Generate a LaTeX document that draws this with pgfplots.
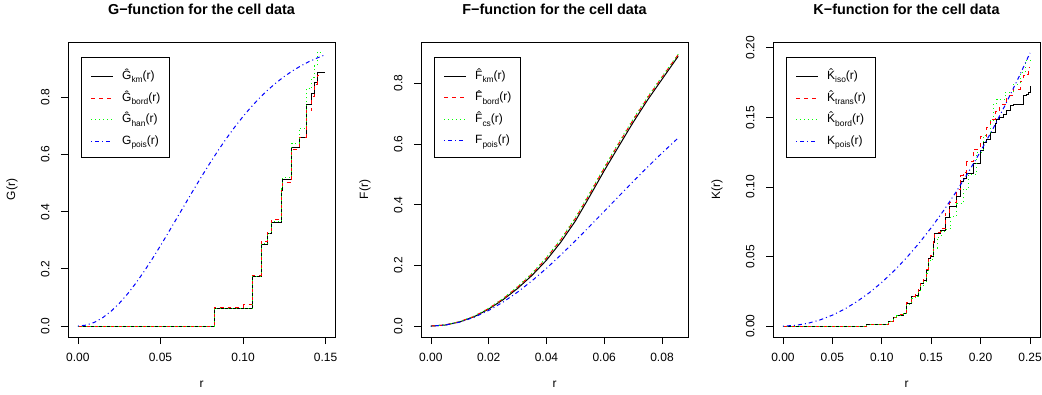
\documentclass[border=0pt]{standalone}
\usepackage{pgfplots}
\pgfplotsset{compat=1.18}
\usepackage{fontspec}
\setmainfont{Liberation Sans}
\newcommand{\sub}[1]{\raisebox{-0.28em}{\fontsize{8.4}{9}\selectfont #1}}
\definecolor{rred}{RGB}{255,0,0}
\definecolor{rgreen}{RGB}{0,255,0}
\definecolor{rblue}{RGB}{0,0,255}
\tikzset{
  kmS/.style={draw=black, line width=1pt, solid},
  bdS/.style={draw=rred, line width=1pt, dash pattern=on 4pt off 4pt},
  hnS/.style={draw=rgreen, line width=1pt, dash pattern=on 1pt off 3pt},
  poS/.style={draw=rblue, line width=1pt, dash pattern=on 1pt off 3pt on 4pt off 3pt},
  lg/.style={anchor=west, inner sep=0pt, text height=8pt, text depth=2pt, font=\fontsize{12}{14}\selectfont},
}
\newcommand{\rleg}[5]{%
  \draw[line width=0.8pt, fill=white] (axis description cs:0,1) ++(13pt,-15pt) rectangle ++(#1,-100pt);
  \draw[kmS] (axis description cs:0,1) ++(23pt,-34.3pt) -- ++(21.7pt,0pt);
  \draw[bdS] (axis description cs:0,1) ++(23pt,-56pt) -- ++(21.7pt,0pt);
  \draw[hnS] (axis description cs:0,1) ++(23pt,-77.7pt) -- ++(21.7pt,0pt);
  \draw[poS] (axis description cs:0,1) ++(23pt,-99pt) -- ++(21.7pt,0pt);
  \path (axis description cs:0,1) ++(54pt,-34.3pt) node[lg] {#2};
  \path (axis description cs:0,1) ++(54pt,-56pt) node[lg] {#3};
  \path (axis description cs:0,1) ++(54pt,-77.7pt) node[lg] {#4};
  \path (axis description cs:0,1) ++(54pt,-99pt) node[lg] {#5};
}
\pgfplotsset{
  rax/.style={
    scale only axis, width=267pt, height=295pt, anchor=south west,
    axis line style={line width=0.8pt, black},
    tick align=outside, tick pos=left, major tick length=7pt,
    every tick/.style={black, line width=0.8pt},
    scaled ticks=false,
    tick label style={font=\fontsize{12}{14}\selectfont},
    /pgf/number format/assume math mode=true,
    xticklabel shift=6pt, yticklabel shift=8pt,
    yticklabel style={rotate=90, anchor=south},
    label style={font=\fontsize{12}{14}\selectfont},
    xlabel style={at={(axis description cs:0.5,-0.16)}, anchor=center},
    ylabel style={at={(axis description cs:-0.21,0.5)}, anchor=center, rotate=0},
    title style={font=\bfseries\fontsize{14.4}{16}\selectfont, at={(axis description cs:0.5,1)}, anchor=center, yshift=27pt},
    clip=true,
  },
}
\begin{document}
\begin{tikzpicture}
\useasboundingbox (0pt,0pt) rectangle (1042pt,394pt);
% ---------------- G ----------------
\begin{axis}[rax, at={(68pt,57pt)},
  xmin=-0.006, xmax=0.1557, ymin=-0.0382, ymax=0.9932,
  xtick={0,0.05,0.1,0.15}, ytick={0,0.2,0.4,0.6,0.8},
  xticklabel style={/pgf/number format/.cd, fixed, fixed zerofill, precision=2},
  yticklabel style={/pgf/number format/.cd, fixed, fixed zerofill, precision=1},
  title={G−function for the cell data}, xlabel={r}, ylabel={G(r)}]
\addplot[kmS, const plot] coordinates {
(0,0) (0.0826,0.0606) (0.1057,0.1737) (0.1109,0.2867) (0.1150,0.3228) (0.1174,0.3612)
(0.1230,0.4740) (0.1240,0.5130) (0.1295,0.6235) (0.1339,0.6610) (0.1382,0.7750)
(0.1416,0.8120) (0.1430,0.8510) (0.1450,0.8880) (0.1495,0.8880)};
\addplot[bdS, const plot] coordinates {
(0,0) (0.0826,0.0640) (0.0920,0.0664) (0.1000,0.0745) (0.1057,0.1770) (0.1109,0.2960)
(0.1150,0.3320) (0.1174,0.3730) (0.1230,0.4800) (0.1240,0.5010) (0.1295,0.6180)
(0.1339,0.6610) (0.1382,0.7520) (0.1416,0.8020) (0.1430,0.8460) (0.1450,0.8770) (0.1470,0.8770)};
\addplot[hnS, const plot] coordinates {
(0,0) (0.0826,0.0620) (0.1057,0.1750) (0.1109,0.2880) (0.1150,0.3240) (0.1174,0.3640)
(0.1230,0.4800) (0.1240,0.5200) (0.1295,0.6400) (0.1339,0.6920) (0.1382,0.8300)
(0.1416,0.8700) (0.1430,0.9100) (0.1450,0.9580) (0.1475,0.9580)};
\addplot[poS] coordinates {
(0,0) (0.005,0.00329) (0.01,0.01311) (0.015,0.02925) (0.02,0.05141) (0.025,0.07916)
(0.03,0.11197) (0.035,0.14925) (0.04,0.19033) (0.045,0.23448) (0.05,0.28095)
(0.055,0.32909) (0.06,0.37813) (0.065,0.42733) (0.07,0.47618) (0.075,0.52393)
(0.08,0.57020) (0.085,0.61452) (0.09,0.65659) (0.095,0.69604) (0.10,0.73273)
(0.105,0.76654) (0.11,0.79746) (0.115,0.82534) (0.12,0.85043) (0.125,0.87275)
(0.13,0.89247) (0.135,0.90971) (0.14,0.92469) (0.145,0.93760) (0.1495,0.94800)};
\rleg{88pt}{\^{G}\sub{km}(r)}{\^{G}\sub{bord}(r)}{\^{G}\sub{han}(r)}{G\sub{pois}(r)}
\end{axis}
% ---------------- F ----------------
\begin{axis}[rax, at={(421pt,57pt)},
  xmin=-0.00343, xmax=0.0890, ymin=-0.036, ymax=0.936,
  xtick={0,0.02,0.04,0.06,0.08}, ytick={0,0.2,0.4,0.6,0.8},
  xticklabel style={/pgf/number format/.cd, fixed, fixed zerofill, precision=2},
  yticklabel style={/pgf/number format/.cd, fixed, fixed zerofill, precision=1},
  title={F−function for the cell data}, xlabel={r}, ylabel={F(r)}]
\addplot[kmS] coordinates {
(0,0) (0.005,0.0035) (0.01,0.014) (0.015,0.031) (0.02,0.056) (0.025,0.087) (0.03,0.124)
(0.035,0.167) (0.04,0.217) (0.045,0.277) (0.05,0.346) (0.055,0.428) (0.06,0.512)
(0.065,0.592) (0.07,0.671) (0.075,0.745) (0.08,0.813) (0.0856,0.889)};
\addplot[bdS] coordinates {
(0,0) (0.005,0.0036) (0.01,0.0145) (0.015,0.032) (0.02,0.058) (0.025,0.090) (0.03,0.128)
(0.035,0.172) (0.04,0.224) (0.045,0.285) (0.05,0.354) (0.055,0.436) (0.06,0.520)
(0.065,0.601) (0.07,0.679) (0.075,0.752) (0.08,0.820) (0.0858,0.897)};
\addplot[hnS] coordinates {
(0,0) (0.005,0.0036) (0.01,0.0146) (0.015,0.033) (0.02,0.059) (0.025,0.091) (0.03,0.130)
(0.035,0.174) (0.04,0.226) (0.045,0.287) (0.05,0.357) (0.055,0.439) (0.06,0.523)
(0.065,0.604) (0.07,0.682) (0.075,0.755) (0.08,0.822) (0.0858,0.898)};
\addplot[poS] coordinates {
(0,0) (0.005,0.00329) (0.01,0.01311) (0.015,0.02925) (0.02,0.05141) (0.025,0.07916)
(0.03,0.11197) (0.035,0.14925) (0.04,0.19033) (0.045,0.23448) (0.05,0.28095)
(0.055,0.32909) (0.06,0.37813) (0.065,0.42733) (0.07,0.47618) (0.075,0.52393)
(0.08,0.57020) (0.085,0.61452) (0.0856,0.61971)};
\rleg{86pt}{\^{F}\sub{km}(r)}{\^{F}\sub{bord}(r)}{\^{F}\sub{cs}(r)}{F\sub{pois}(r)}
\end{axis}
% ---------------- K ----------------
\begin{axis}[rax, at={(773pt,57pt)},
  xmin=-0.0101, xmax=0.2601, ymin=-0.00785, ymax=0.2042,
  xtick={0,0.05,0.1,0.15,0.2,0.25}, ytick={0,0.05,0.1,0.15,0.2},
  xticklabel style={/pgf/number format/.cd, fixed, fixed zerofill, precision=2},
  yticklabel style={/pgf/number format/.cd, fixed, fixed zerofill, precision=2},
  title={K−function for the cell data}, xlabel={r}, ylabel={K(r)}]
\addplot[kmS, const plot] coordinates {
(0,0) (0.0847,0.0010) (0.1066,0.0031) (0.1117,0.0062) (0.1151,0.0079) (0.1218,0.0091)
(0.1252,0.0163) (0.1302,0.0210) (0.1336,0.0222) (0.1370,0.0258) (0.1387,0.0306)
(0.1420,0.0330) (0.1454,0.0402) (0.1471,0.0486) (0.1488,0.0502) (0.1522,0.0603)
(0.1538,0.0665) (0.1589,0.0689) (0.1640,0.0784) (0.1690,0.0856) (0.1758,0.0928)
(0.1800,0.1040) (0.1825,0.1060) (0.1860,0.1095) (0.1926,0.1170) (0.1994,0.1260)
(0.2028,0.1320) (0.2062,0.1340) (0.2095,0.1392) (0.2146,0.1454) (0.2163,0.1487)
(0.2196,0.1499) (0.2230,0.1523) (0.2264,0.1547) (0.2298,0.1583) (0.2331,0.1595)
(0.2432,0.1655) (0.2466,0.1667) (0.2483,0.1679) (0.2500,0.1727)};
\addplot[bdS, const plot] coordinates {
(0,0) (0.0847,0.0010) (0.1066,0.0033) (0.1117,0.0064) (0.1151,0.0082) (0.1218,0.0095)
(0.1252,0.0168) (0.1302,0.0214) (0.1336,0.0226) (0.1370,0.0262) (0.1387,0.0312)
(0.1420,0.0336) (0.1454,0.0410) (0.1471,0.0494) (0.1488,0.0510) (0.1522,0.0610)
(0.1538,0.0672) (0.1589,0.0700) (0.1640,0.0810) (0.1690,0.0890) (0.1758,0.0980)
(0.1800,0.1080) (0.1825,0.1105) (0.1860,0.1180) (0.1926,0.1270) (0.1994,0.1360)
(0.2062,0.1430) (0.2095,0.1487) (0.2146,0.1540) (0.2196,0.1590) (0.2264,0.1655)
(0.2331,0.1700) (0.2399,0.1760) (0.2432,0.1800) (0.2466,0.1810) (0.2483,0.1858) (0.2500,0.1858)};
\addplot[hnS, const plot] coordinates {
(0,0) (0.0847,0.0010) (0.1066,0.0030) (0.1117,0.0060) (0.1151,0.0076) (0.1218,0.0088)
(0.1252,0.0155) (0.1302,0.0200) (0.1336,0.0212) (0.1370,0.0245) (0.1387,0.0290)
(0.1420,0.0315) (0.1454,0.0380) (0.1471,0.0460) (0.1488,0.0480) (0.1522,0.0560)
(0.1560,0.0640) (0.1600,0.0680) (0.1657,0.0700) (0.1700,0.0790) (0.1760,0.0880)
(0.1825,0.0985) (0.1880,0.1090) (0.1960,0.1248) (0.2028,0.1368) (0.2095,0.1480)
(0.2130,0.1595) (0.2163,0.1630) (0.2250,0.1680) (0.2330,0.1740) (0.2400,0.1820)
(0.2450,0.1906) (0.2500,0.1930)};
\addplot[poS] coordinates {
(0,0) (0.0125,0.000491) (0.025,0.001963) (0.0375,0.004418) (0.05,0.007854)
(0.0625,0.012272) (0.075,0.017671) (0.0875,0.024053) (0.1,0.031416) (0.1125,0.039761)
(0.125,0.049087) (0.1375,0.059396) (0.15,0.070686) (0.1625,0.082958) (0.175,0.096211)
(0.1875,0.110447) (0.2,0.125664) (0.2125,0.141863) (0.225,0.159043) (0.2375,0.177205)
(0.25,0.196350)};
\rleg{89pt}{\^{K}\sub{iso}(r)}{\^{K}\sub{trans}(r)}{\^{K}\sub{bord}(r)}{K\sub{pois}(r)}
\end{axis}
\end{tikzpicture}
\end{document}
